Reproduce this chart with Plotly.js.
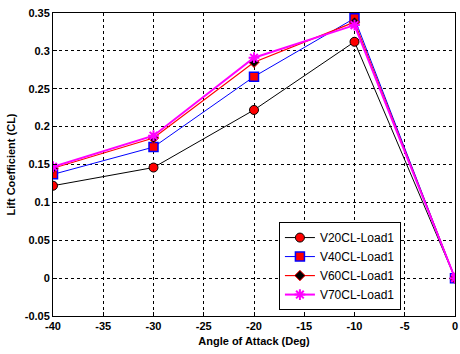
<!DOCTYPE html>
<html><head><meta charset="utf-8">
<script src="https://cdn.plot.ly/plotly-3.0.1.min.js"></script>
<style>html,body{margin:0;padding:0;background:#fff}#c{width:460px;height:354px}</style>
</head><body><div id="c"></div>
<script>
const angles = [-40, -30, -20, -10, 0];
const v20 = [0.122, 0.146, 0.222, 0.312, 0];
const v40 = [0.137, 0.173, 0.266, 0.343, 0];
const v60 = [0.145, 0.185, 0.285, 0.338, 0];
const v70 = [0.147, 0.188, 0.291, 0.334, 0];
const names = ['V20CL-Load1', 'V40CL-Load1', 'V60CL-Load1', 'V70CL-Load1'];
const xTicks = [-40, -35, -30, -25, -20, -15, -10, -5, 0];
const yTicks = [-0.05, 0, 0.05, 0.1, 0.15, 0.2, 0.25, 0.3, 0.35];

const traces = [
  {x: angles, y: v20, name: names[0], mode: 'lines+markers',
   line: {color: '#000', width: 1}, marker: {symbol: 'circle', size: 9, color: '#ff0000', line: {color: '#000', width: 1}}},
  {x: angles, y: v40, name: names[1], mode: 'lines+markers',
   line: {color: '#0000ff', width: 1}, marker: {symbol: 'square', size: 9, color: '#ff0000', line: {color: '#0000ff', width: 1.5}}},
  {x: angles, y: v60, name: names[2], mode: 'lines+markers',
   line: {color: '#ff0000', width: 1.2}, marker: {symbol: 'diamond', size: 8, color: '#000', line: {color: '#ff0000', width: 1}}},
  {x: angles, y: v70, name: names[3], mode: 'lines+markers',
   line: {color: '#ff00ff', width: 2}, marker: {symbol: 'asterisk', size: 9, color: '#ff00ff', line: {color: '#ff00ff', width: 2}}}
];

const fam = 'Liberation Sans, Arial, sans-serif';
const axFont = {family: fam, size: 11, color: '#000', weight: 'bold'};
const layout = {
  width: 460, height: 354,
  margin: {l: 53, r: 5, t: 13, b: 38},
  paper_bgcolor: '#fff', plot_bgcolor: '#fff',
  showlegend: true,
  legend: {x: 0.562, y: 0.31, xanchor: 'left', yanchor: 'top',
    bgcolor: '#fff', bordercolor: '#000', borderwidth: 1,
    font: {family: fam, size: 12, color: '#000'},
    tracegroupgap: 0, itemwidth: 30},
  xaxis: {range: [-40, 0], tickvals: xTicks, ticktext: xTicks.map(String),
    showgrid: true, gridcolor: '#000', griddash: 'dot', gridwidth: 1,
    zeroline: false, showline: true, linecolor: '#000', linewidth: 1, mirror: true,
    ticks: 'inside', ticklen: 4, tickcolor: '#000', tickfont: axFont,
    ticklabeloverflow: 'allow',
    title: {text: 'Angle of Attack (Deg)', font: {family: fam, size: 11, color: '#000', weight: 'bold'}, standoff: 6}},
  yaxis: {range: [-0.05, 0.35], tickvals: yTicks, ticktext: yTicks.map(v => String(v)),
    showgrid: true, gridcolor: '#000', griddash: 'dot', gridwidth: 1,
    zeroline: false, showline: true, linecolor: '#000', linewidth: 1, mirror: true,
    ticks: 'inside', ticklen: 4, tickcolor: '#000', tickfont: axFont,
    title: {text: 'Lift Coefficient (CL)', font: {family: fam, size: 11, color: '#000', weight: 'bold'}, standoff: 6}}
};
Plotly.newPlot('c', traces, layout, {displayModeBar: false, staticPlot: true});
</script></body></html>
